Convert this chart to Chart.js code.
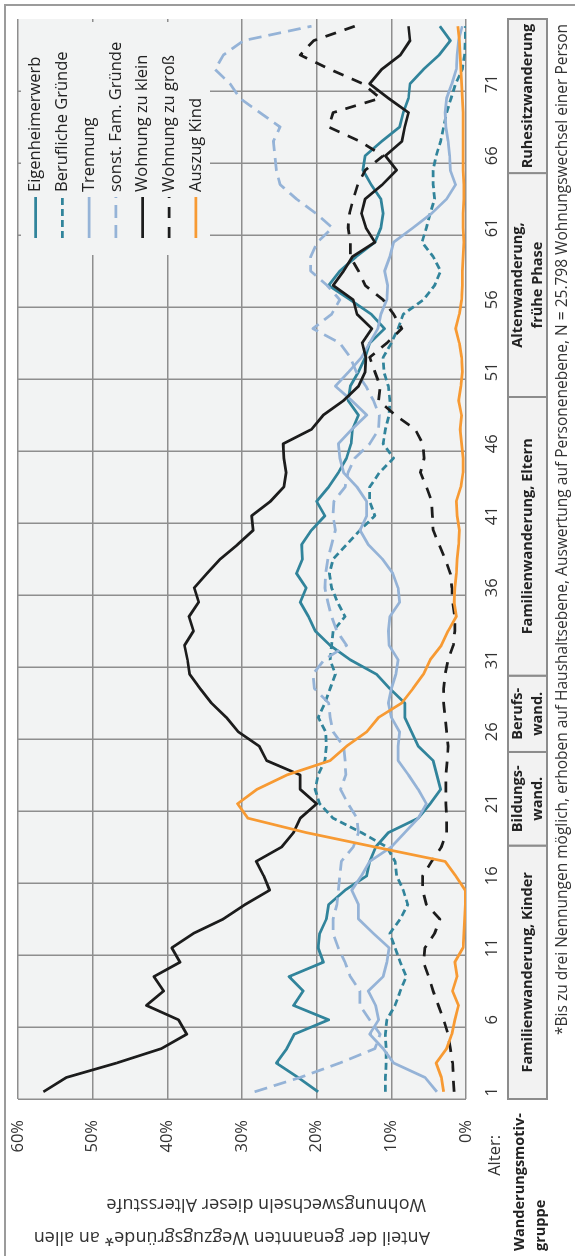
<!DOCTYPE html>
<html>
<head>
<meta charset="utf-8">
<script src="https://cdn.jsdelivr.net/npm/chart.js@4.4.0/dist/chart.umd.min.js"></script>
<style>
  html, body { margin: 0; padding: 0; background: #fff; }
  body { width: 575px; height: 1256px; overflow: hidden; position: relative; }
  /* the chart is drawn lying on its side and turned upright with CSS */
  #wrap { position: absolute; left: 0; top: 0; width: 1256px; height: 575px;
          transform-origin: 0 0; transform: rotate(-90deg) translate(-1256px, 0); }
</style>
</head>
<body>
<div id="wrap"><canvas id="chart" width="1256" height="575"></canvas></div>
<script>
const ages = [1, 2, 3, 4, 5, 6, 7, 8, 9, 10, 11, 12, 13, 14, 15, 16, 17, 18, 19, 20,
  21, 22, 23, 24, 25, 26, 27, 28, 29, 30, 31, 32, 33, 34, 35, 36, 37, 38, 39, 40,
  41, 42, 43, 44, 45, 46, 47, 48, 49, 50, 51, 52, 53, 54, 55, 56, 57, 58, 59, 60,
  61, 62, 63, 64, 65, 66, 67, 68, 69, 70, 71, 72, 73, 74, 75];
const ageTickLabels = [1, 6, 11, 16, 21, 26, 31, 36, 41, 46, 51, 56, 61, 66, 71];
const percentTicks = [0, 10, 20, 30, 40, 50, 60];

const eigenheimerwerb = [19.8, 22.5, 25.4, 24.0, 23.0, 18.4, 23.1, 21.8, 23.7, 19.1,
  19.8, 19.6, 18.7, 18.4, 16.2, 13.3, 12.9, 12.1, 10.4, 6.4,
  4.8, 3.4, 3.9, 4.4, 6.4, 7.3, 8.2, 8.2, 10.2, 12.0,
  15.5, 18.2, 20.2, 21.1, 22.2, 21.4, 22.7, 21.9, 22.0, 20.7,
  18.9, 20.0, 18.4, 17.1, 16.0, 15.4, 15.2, 14.4, 15.8, 15.5,
  14.4, 13.5, 12.9, 10.9, 12.7, 15.5, 18.4, 16.9, 14.7, 12.2,
  11.4, 11.1, 11.4, 12.7, 13.8, 13.5, 11.3, 8.9, 8.4, 7.7,
  7.5, 5.7, 3.6, 2.1, 3.5];
const beruflicheGruende = [10.8, 10.8, 10.7, 10.7, 10.8, 10.6, 9.5, 8.8, 8.0, 8.8,
  9.5, 10.2, 8.8, 7.8, 8.4, 9.3, 9.5, 10.6, 14.0, 17.8,
  19.6, 20.2, 19.8, 18.9, 18.7, 18.8, 19.8, 18.9, 18.2, 17.5,
  18.2, 18.0, 17.8, 16.2, 17.2, 18.0, 18.3, 17.8, 16.0, 14.2,
  12.2, 12.9, 12.9, 11.6, 9.7, 11.1, 10.8, 10.3, 10.2, 10.4,
  11.0, 11.1, 10.0, 9.1, 8.4, 5.7, 4.2, 3.4, 4.4, 5.9,
  5.3, 4.8, 4.2, 4.4, 4.4, 4.0, 3.4, 3.0, 2.6, 2.0,
  1.4, 0.5, 0.2, 0.1, 0.1];
const trennung = [3.9, 5.5, 9.7, 11.1, 12.9, 11.7, 12.1, 13.1, 11.1, 10.6,
  10.3, 12.4, 14.4, 14.4, 15.3, 14.0, 12.9, 10.0, 8.2, 6.4,
  5.3, 6.4, 7.7, 9.1, 9.1, 8.9, 10.0, 10.4, 10.0, 9.4,
  9.1, 10.3, 10.4, 10.2, 8.9, 9.1, 9.8, 11.2, 13.1, 14.2,
  13.3, 13.3, 14.6, 16.4, 16.9, 17.1, 15.3, 13.3, 15.3, 17.5,
  15.7, 14.0, 12.9, 11.8, 11.4, 10.6, 10.5, 10.9, 10.2, 9.7,
  7.1, 4.6, 2.6, 1.4, 2.1, 2.2, 2.4, 2.7, 2.8, 2.6,
  1.9, 1.3, 1.2, 1.0, 0.5];
const sonstFamGruende = [28.3, 22.2, 16.9, 12.2, 11.5, 12.9, 14.2, 14.2, 15.5, 16.2,
  17.1, 17.8, 17.8, 17.3, 17.1, 16.9, 16.7, 15.1, 14.4, 14.6,
  15.8, 16.8, 16.1, 16.2, 16.4, 17.8, 18.2, 18.4, 20.3, 20.5,
  19.0, 16.0, 17.3, 18.0, 18.5, 18.9, 18.8, 18.5, 18.0, 17.5,
  17.8, 17.7, 16.2, 15.8, 14.9, 12.9, 11.7, 11.6, 12.4, 13.4,
  14.7, 15.5, 16.9, 20.5, 18.0, 16.9, 18.6, 20.8, 20.8, 19.9,
  17.9, 20.1, 22.7, 24.9, 25.4, 25.6, 25.8, 24.9, 27.6, 30.3,
  31.6, 33.6, 32.5, 29.8, 20.7];
const wohnungZuKlein = [56.6, 53.5, 46.8, 40.8, 37.4, 38.5, 42.8, 40.5, 41.8, 38.3,
  39.4, 36.5, 32.5, 29.6, 26.3, 27.1, 28.1, 24.7, 23.1, 22.2,
  20.0, 22.2, 22.2, 26.7, 27.7, 30.5, 32.1, 34.1, 35.6, 37.0,
  37.3, 37.7, 36.5, 37.1, 35.8, 36.4, 34.7, 32.9, 30.6, 28.5,
  28.7, 26.2, 24.4, 24.1, 24.4, 24.5, 20.7, 19.1, 16.4, 14.4,
  13.5, 13.4, 13.9, 12.6, 14.6, 15.1, 17.8, 16.4, 15.2, 12.2,
  13.4, 14.0, 13.5, 11.2, 9.3, 10.8, 8.6, 8.2, 7.7, 10.4,
  12.9, 11.3, 8.8, 7.5, 7.7];
const wohnungZuGross = [1.6, 1.7, 1.8, 2.1, 2.4, 3.0, 3.7, 4.4, 5.0, 5.7,
  5.5, 4.2, 3.5, 5.3, 5.8, 5.8, 4.6, 3.3, 2.6, 2.6,
  2.7, 2.7, 2.7, 2.5, 2.4, 2.6, 2.8, 3.0, 3.0, 2.8,
  2.4, 1.7, 1.5, 1.5, 1.8, 1.9, 2.1, 2.8, 3.6, 4.4,
  4.5, 4.6, 5.3, 6.1, 5.6, 5.8, 6.8, 9.5, 11.7, 11.5,
  12.2, 12.9, 10.6, 8.6, 9.7, 11.1, 13.5, 14.4, 15.5, 15.5,
  15.8, 15.6, 15.1, 14.5, 13.5, 11.1, 14.2, 18.4, 17.8, 11.5,
  13.8, 18.2, 22.2, 20.4, 14.9];
const auszugKind = [3.0, 3.3, 4.0, 2.6, 1.9, 1.5, 1.0, 1.8, 1.2, 1.5,
  0.4, 0.3, 0.2, 0.1, 0.1, 1.4, 2.8, 12.2, 21.4, 29.2,
  30.6, 28.0, 24.0, 18.2, 16.0, 13.3, 11.7, 8.6, 7.1, 5.7,
  4.8, 3.3, 2.4, 1.3, 1.6, 1.5, 1.3, 1.2, 1.0, 0.9,
  1.2, 1.3, 0.7, 0.4, 0.4, 0.6, 0.8, 0.6, 1.0, 0.7,
  0.5, 0.6, 0.9, 1.4, 0.9, 0.6, 0.5, 0.5, 0.4, 0.3,
  0.4, 0.4, 0.3, 0.3, 0.4, 0.4, 0.4, 0.4, 0.4, 0.5,
  0.6, 0.7, 0.8, 0.9, 1.1];

// Wanderungsmotivgruppen under the age axis
const groupNames = [['Familienwanderung, Kinder'], ['Bildungs-', 'wand.'], ['Berufs-', 'wand.'],
  ['Familienwanderung, Eltern'], ['Altenwanderung,', 'frühe Phase'], ['Ruhesitzwanderung']];
// where the boxes of the table meet, measured in years along the age axis
const tableEdges = [0, 17.6, 24.1, 29.4, 48.75, 64.3, 75];

const FONT = '"Open Sans", "DejaVu Sans", sans-serif';
const TEAL = '#31849b';
const LIGHTBLUE = '#95b3d7';
const BLACK = '#1c1c1c';
const ORANGE = '#f79a33';

function line(label, data, color, dash) {
  return {
    label: label,
    data: data,
    borderColor: color,
    backgroundColor: color,
    borderWidth: 2.75,
    borderDash: dash,
    borderJoinStyle: 'round',
    pointRadius: 0,
    tension: 0,
    fill: false
  };
}

const datasets = [
  line('Eigenheimerwerb', eigenheimerwerb, TEAL, []),
  line('Berufliche Gründe', beruflicheGruende, TEAL, [7, 4]),
  line('Trennung', trennung, LIGHTBLUE, []),
  line('sonst. Fam. Gründe', sonstFamGruende, LIGHTBLUE, [13, 7]),
  line('Wohnung zu klein', wohnungZuKlein, BLACK, []),
  line('Wohnung zu groß', wohnungZuGross, BLACK, [11, 9]),
  line('Auszug Kind', auszugKind, ORANGE, [])
];
datasets.forEach((ds, i) => { ds.order = datasets.length - i; });

function rotText(ctx, text, x, y, align) {
  ctx.save();
  ctx.translate(x, y);
  ctx.rotate(-Math.PI / 2);
  ctx.textAlign = align;
  ctx.fillText(text, 0, 0);
  ctx.restore();
}

const decor = {
  id: 'decor',
  beforeDraw(chart) {
    const { ctx, chartArea: a } = chart;
    ctx.save();
    ctx.fillStyle = '#ffffff';
    ctx.fillRect(0, 0, chart.width, chart.height);
    ctx.fillStyle = '#f2f3f3';
    ctx.fillRect(a.left, a.top, a.right - a.left, a.bottom - a.top);
    ctx.strokeStyle = '#9b9b9b';
    ctx.lineWidth = 2;
    ctx.beginPath();
    ctx.moveTo(0, 5);
    ctx.lineTo(1251, 5);
    ctx.lineTo(1251, chart.height);
    ctx.stroke();
    ctx.restore();
  },
  beforeDatasetsDraw(chart) {
    // legend box hides the grid behind it
    const { ctx } = chart;
    ctx.save();
    ctx.fillStyle = '#f2f3f3';
    ctx.fillRect(1001, 21, 233, 189);
    ctx.restore();
  },
  afterDatasetsDraw(chart) {
    const { ctx } = chart;
    const xs = chart.scales.x;
    ctx.save();
    ctx.textBaseline = 'middle';

    // legend
    chart.data.datasets.forEach((ds, i) => {
      const y = 35.7 + i * 26.7;
      ctx.strokeStyle = ds.borderColor;
      ctx.lineWidth = ds.borderWidth;
      ctx.setLineDash(ds.borderDash);
      ctx.beginPath();
      ctx.moveTo(1018, y);
      ctx.lineTo(1059, y);
      ctx.stroke();
      ctx.setLineDash([]);
      ctx.fillStyle = '#222';
      ctx.font = '16.5px ' + FONT;
      ctx.textAlign = 'left';
      ctx.fillText(ds.label, 1064, y);
    });

    // y axis title
    ctx.fillStyle = '#333';
    ctx.font = '18px ' + FONT;
    rotText(ctx, 'Anteil der genannten Wegzugsgründe* an allen', 19, 430, 'left');
    rotText(ctx, 'Wohnungswechseln dieser Altersstufe', 52, 426, 'left');

    ctx.font = '16.5px ' + FONT;
    ctx.textAlign = 'right';
    ctx.fillText('Alter:', 121, 495);

    // Wanderungsmotivgruppe table
    const v0 = 508, v1 = 547;
    groupNames.forEach((name, i) => {
      const u0 = xs.getPixelForValue(tableEdges[i] - 0.5);
      const u1 = xs.getPixelForValue(tableEdges[i + 1] - 0.5);
      ctx.fillStyle = '#f2f2f2';
      ctx.fillRect(u0, v0, u1 - u0, v1 - v0);
      ctx.strokeStyle = '#8c8c8c';
      ctx.lineWidth = 2;
      ctx.strokeRect(u0, v0, u1 - u0, v1 - v0);
      ctx.fillStyle = '#222';
      ctx.font = 'bold 14.5px ' + FONT;
      ctx.textAlign = 'center';
      const uc = (u0 + u1) / 2;
      if (name.length === 1) {
        ctx.fillText(name[0], uc, 528);
      } else {
        ctx.fillText(name[0], uc, 518);
        ctx.fillText(name[1], uc, 538);
      }
    });
    ctx.textAlign = 'left';
    ctx.font = 'bold 14.5px ' + FONT;
    ctx.fillText('Wanderungsmotiv-', 5, 520);
    ctx.fillText('gruppe', 5, 541);

    // footnote
    ctx.font = '15.5px ' + FONT;
    ctx.fillStyle = '#333';
    ctx.textAlign = 'right';
    ctx.fillText('*Bis zu drei Nennungen möglich, erhoben auf Haushaltsebene, Auswertung auf Personenebene, N = 25.798 Wohnungswechsel einer Person', 1232, 563);
    ctx.restore();
  }
};

Chart.defaults.font.family = FONT;
Chart.defaults.color = '#333';

new Chart(document.getElementById('chart'), {
  type: 'line',
  data: { labels: ages, datasets: datasets },
  options: {
    responsive: false,
    animation: false,
    events: [],
    devicePixelRatio: 1,
    layout: { padding: { left: 0, right: 19, top: 18, bottom: 0 } },
    plugins: { legend: { display: false }, tooltip: { enabled: false } },
    scales: {
      x: {
        type: 'category',
        offset: true,
        grid: {
          offset: true,
          drawTicks: false,
          lineWidth: 1.5,
          color: (c) => (c.index % 5 === 0 ? '#8e8e8e' : 'rgba(0,0,0,0)')
        },
        border: { display: false },
        ticks: {
          autoSkip: false,
          maxRotation: 0,
          padding: 16,
          font: { size: 16.5 },
          color: '#333',
          callback: function (value, index) {
            return ageTickLabels.includes(ages[index]) ? String(ages[index]) : '';
          }
        },
        afterFit: (scale) => {
          scale.height = 109;
          scale.paddingLeft = 0;
          scale.paddingRight = 0;
        }
      },
      y: {
        min: 0,
        max: 60,
        afterBuildTicks: (scale) => { scale.ticks = percentTicks.map(v => ({ value: v })); },
        grid: { drawTicks: false, lineWidth: 1.5, color: '#8e8e8e' },
        border: { display: false },
        ticks: {
          padding: 21,
          font: { size: 16.5 },
          color: '#333',
          callback: (v) => v + '%'
        },
        afterFit: (scale) => {
          scale.width = 157;
          scale.paddingTop = 0;
          scale.paddingBottom = 0;
        }
      }
    }
  },
  plugins: [decor]
});
</script>
</body>
</html>
